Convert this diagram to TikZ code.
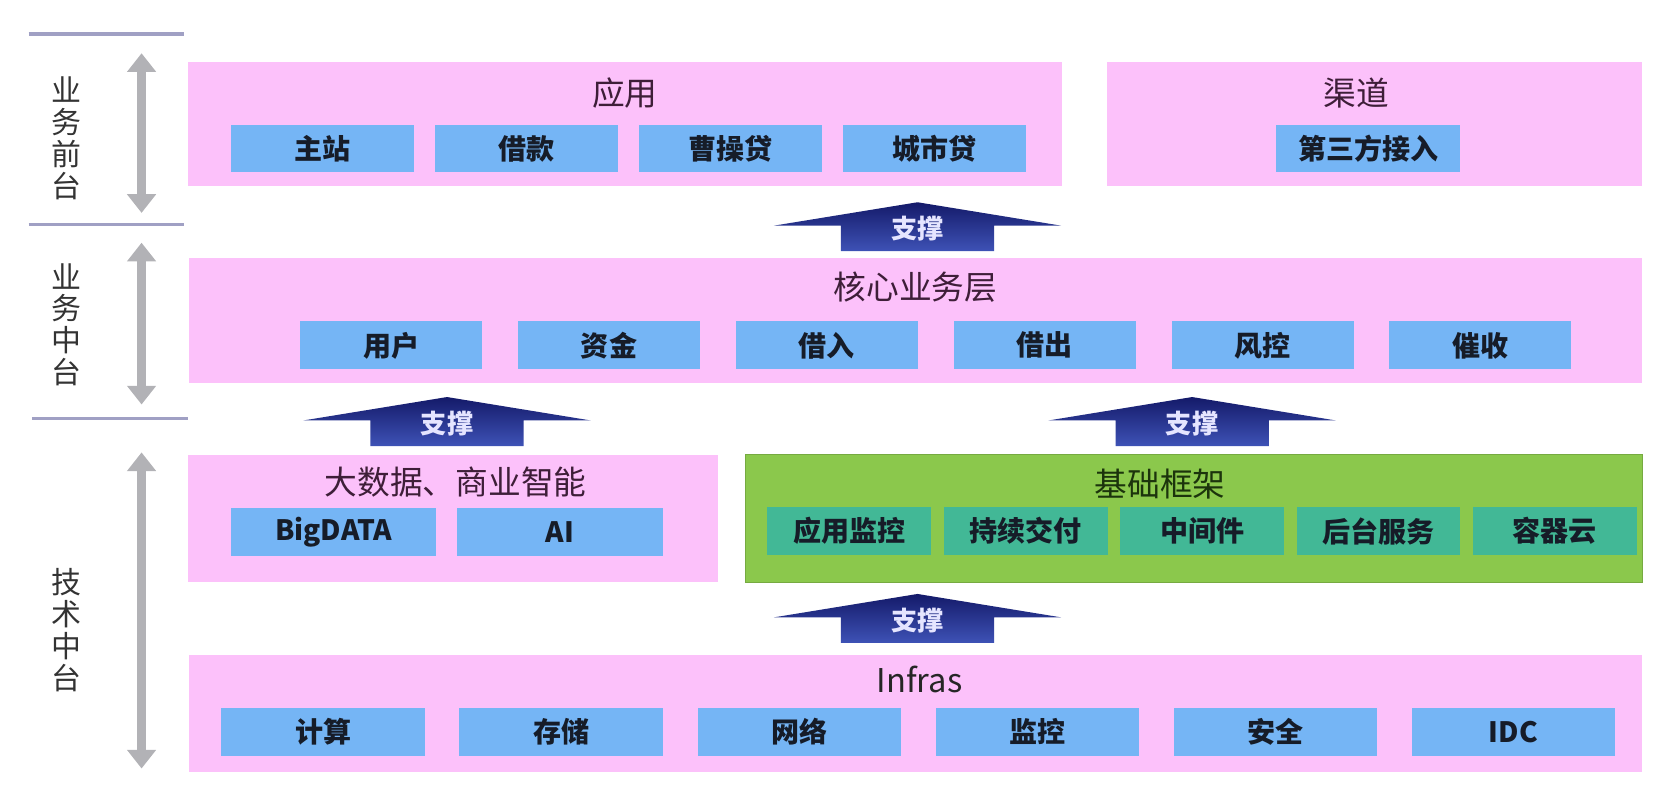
\documentclass[tikz,border=0pt]{standalone}
\usepackage{fontspec}
\setmainfont{Noto Sans CJK SC}
\usepackage{xcolor}
\usetikzlibrary{arrows.meta, positioning}

\definecolor{layerpink}{RGB}{252,193,250}
\definecolor{itemblue}{RGB}{117,181,245}
\definecolor{basegreen}{RGB}{139,200,76}
\definecolor{itemteal}{RGB}{66,184,150}
\definecolor{titlepurple}{RGB}{62,30,56}
\definecolor{titlegreen}{RGB}{28,52,12}
\definecolor{itemtext}{RGB}{22,28,40}
\definecolor{sidegray}{RGB}{178,178,182}
\definecolor{rulegray}{RGB}{160,160,196}
\definecolor{navytop}{RGB}{20,26,105}
\definecolor{navybot}{RGB}{62,82,182}

\begin{document}
\begin{tikzpicture}[
      x=0.02cm, y=-0.02cm,
      layer/.style={fill=layerpink, inner sep=0pt},
      title/.style={font=\fontsize{17.5}{20}\selectfont, text=titlepurple},
      item/.style={fill=itemblue, minimum width=#1, minimum height=0.9cm,
                   inner sep=0pt, text=itemtext,
                   font=\bfseries\fontsize{15}{18}\selectfont},
      item/.default=3.44cm,
      tealitem/.style={item=#1, fill=itemteal},
      side/.style={align=center, text=black!80,
                   font=\fontsize{16}{17}\selectfont},
      sidearrow/.style={sidegray, line width=4.5pt,
                        {Triangle[width=15pt,length=10pt]}-{Triangle[width=15pt,length=10pt]}},
      rule/.style={rulegray, line width=1.7pt},
      holdtext/.style={text=white!90!blue, inner sep=0pt,
                       font=\bfseries\fontsize{14}{16}\selectfont},
  ]
  \useasboundingbox (0,0) rectangle (1568,752);

  %% left side: layer names
  \draw[rule] (27,32)  -- (173,32);
  \draw[rule] (27,211) -- (173,211);
  \draw[rule] (30,393) -- (177,393);

  \node[side] (front)  at (62,130) {业\\务\\前\\台};
  \node[side] (bizmid) at (62,305) {业\\务\\中\\台};
  \node[side] (techmid) at (62,592) {技\\术\\中\\台};

  \coordinate (fronttop) at (133,50);
  \coordinate (frontbot) at (133,200);
  \coordinate (bizmidtop) at (133,228);
  \coordinate (bizmidbot) at (133,380);
  \coordinate (techmidtop) at (133,425);
  \coordinate (techmidbot) at (133,722);
  \draw[sidearrow] (fronttop)   -- (frontbot);
  \draw[sidearrow] (bizmidtop)  -- (bizmidbot);
  \draw[sidearrow] (techmidtop) -- (techmidbot);

  %% front: applications and channels
  \node[layer, minimum width=16.42cm, minimum height=2.34cm] (app) at (587.5,116.5) {};
  \node[title] (apptitle) at (587,87) {应用};
  \node[item] (app1) at (303,139.5) {主站};
  \node[item, right=0.38cm of app1] (app2) {借款};
  \node[item, right=0.38cm of app2] (app3) {曹操贷};
  \node[item, right=0.38cm of app3] (app4) {城市贷};

  \node[layer, minimum width=10.06cm, minimum height=2.34cm] (chan) at (1291.5,116.5) {};
  \node[title] (chantitle) at (1274,87) {渠道};
  \node[item=3.46cm] (chan1) at (1285.5,139.5) {第三方接入};

  %% core business layer
  \node[layer, minimum width=27.32cm, minimum height=2.36cm] (core) at (860,301) {};
  \node[title] (coretitle) at (860,270) {核心业务层};
  \node[item=3.42cm] (core1) at (367.5,324.5) {用户};
  \node[item=3.42cm, right=0.66cm of core1] (core2) {资金};
  \node[item=3.42cm, right=0.66cm of core2] (core3) {借入};
  \node[item=3.42cm, right=0.66cm of core3] (core4) {借出};
  \node[item=3.42cm, right=0.66cm of core4] (core5) {风控};
  \node[item=3.42cm, right=0.66cm of core5] (core6) {催收};

  %% big data and base framework
  \node[layer, minimum width=9.96cm, minimum height=2.4cm] (bd) at (426,487) {};
  \node[title] (bdtitle) at (428,453) {大数据、商业智能};
  \node[item=3.86cm] (bd1) at (313.5,500) {BigDATA};
  \node[item=3.86cm, right=0.38cm of bd1] (bd2) {AI};

  \node[fill=basegreen, draw=basegreen!85!black, minimum width=16.86cm,
        minimum height=2.4cm, inner sep=0pt] (base) at (1121.5,487) {};
  \node[title, text=titlegreen] (basetitle) at (1090,455) {基础框架};
  \node[tealitem=3.08cm] (base1) at (798,499) {应用监控};
  \node[tealitem=3.08cm, right=0.22cm of base1] (base2) {持续交付};
  \node[tealitem=3.08cm, right=0.22cm of base2] (base3) {中间件};
  \node[tealitem=3.08cm, right=0.22cm of base3] (base4) {后台服务};
  \node[tealitem=3.08cm, right=0.22cm of base4] (base5) {容器云};

  %% infrastructure
  \node[layer, minimum width=27.32cm, minimum height=2.2cm] (infra) at (860,670) {};
  \node[title, text=black!85] (infratitle) at (864,638) {Infras};
  \node[item=3.82cm] (infra1) at (303.5,687.5) {计算};
  \node[item=3.82cm, right=0.64cm of infra1] (infra2) {存储};
  \node[item=3.82cm, right=0.64cm of infra2] (infra3) {网络};
  \node[item=3.82cm, right=0.64cm of infra3] (infra4) {监控};
  \node[item=3.82cm, right=0.64cm of infra4] (infra5) {安全};
  \node[item=3.82cm, right=0.64cm of infra5] (infra6) {IDC};

  %% support arrows
  \foreach \n/\x/\y in {hold1/862/190, hold2/420/373, hold3/1120/373, hold4/862/558}{
    \shade[top color=navytop, bottom color=navybot]
      (\x,\y) -- ++(135,22) -- ++(-63,0) -- ++(0,24) -- ++(-144,0)
      -- ++(0,-24) -- ++(-63,0) -- cycle;
    \node[holdtext] (\n) at (\x,\y+25) {支撑};
  }

  \end{tikzpicture}
\end{document}
